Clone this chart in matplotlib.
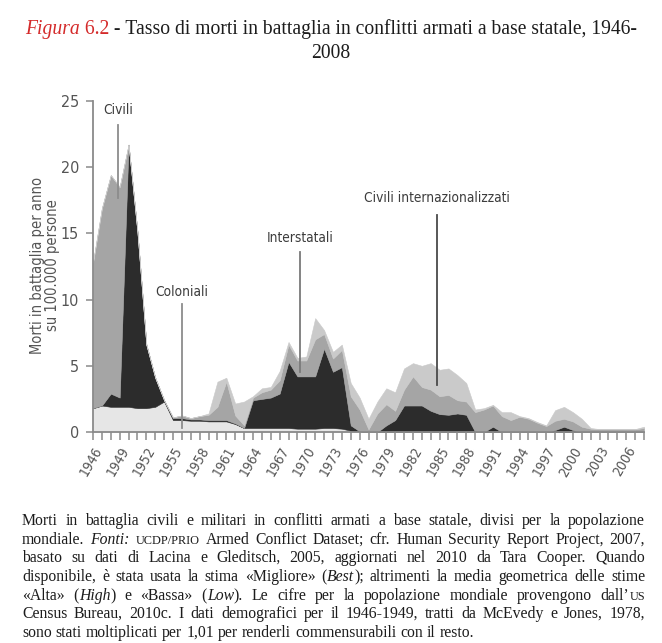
import re
import matplotlib
matplotlib.use('Agg')
import matplotlib.pyplot as plt
from matplotlib import font_manager

# dati (morti per 100.000 persone, strati impilati)
years = list(range(1946, 2009))

coloniali = [1.8, 2.0, 1.9, 1.9, 1.9, 1.8, 1.8, 1.9, 2.3, 0.9,
             0.9, 0.85, 0.85, 0.8, 0.8, 0.8, 0.6, 0.3, 0.3, 0.3,
             0.3, 0.3, 0.3, 0.25, 0.25, 0.25, 0.3, 0.3, 0.25, 0.1,
             0.05] + [0] * 32

interstatali = [0, 0, 1.0, 0.7, 19.8, 13.3, 4.8, 2.2, 0.1, 0.15,
                0.15, 0.1, 0.1, 0.1, 0.1, 0.1, 0.05, 0, 2.1, 2.2,
                2.3, 2.6, 5.0, 3.95, 3.95, 3.95, 6.0, 4.25, 4.65, 0.4,
                0, 0, 0, 0.5, 0.9, 2.0, 2.0, 2.0, 1.6, 1.35,
                1.3, 1.4, 1.3, 0, 0, 0.4, 0, 0, 0, 0,
                0, 0, 0.15, 0.4, 0.15] + [0] * 8

civili = [11.0, 14.9, 16.5, 15.9, 0, 0, 0, 0, 0, 0.05,
          0.2, 0.1, 0.25, 0.4, 1.0, 2.9, 0.6, 0.2, 0.2, 0.5,
          0.6, 1.0, 1.3, 1.2, 1.2, 2.8, 1.1, 1.0, 1.3, 2.2,
          1.65, 0.2, 1.4, 1.6, 0.7, 1.2, 2.2, 1.4, 1.6, 1.35,
          1.5, 1.0, 1.0, 1.5, 1.7, 1.6, 1.2, 0.9, 1.15, 1.0,
          0.7, 0.45, 0.7, 0.6, 0.65, 0.4, 0.25, 0.2, 0.2, 0.2,
          0.2, 0.2, 0.3]

civili_int = [0] * 13 + [0.1, 1.9, 0.3, 0.9, 1.8, 0.1, 0.3, 0.2,
              0.7, 0.2, 0.2, 0.3, 1.6, 0.3, 0.5, 0.4, 1.0, 0.9,
              0.8, 0.9, 1.2, 1.4, 1.6, 1.0, 1.6, 2.0, 2.0, 2.0,
              1.9, 1.4, 0.2, 0.1, 0.05, 0.3, 0.6, 0.05, 0.05, 0.05,
              0.05, 0.8, 0.9, 0.7, 0.6, 0.05, 0.02, 0.02, 0.02, 0.02,
              0.02, 0.1]

layer_colors = ['#e6e6e6', '#2c2c2c', '#a5a5a5', '#cacaca']
tick_years = list(range(1946, 2007, 3))

caption = [
    "Morti in battaglia civili e militari in conflitti armati a base statale, divisi per la popolazione",
    "mondiale. *Fonti:* ^ucdp/prio^ Armed Conflict Dataset; cfr. Human Security Report Project, 2007,",
    "basato su dati di Lacina e Gleditsch, 2005, aggiornati nel 2010 da Tara Cooper. Quando",
    "disponibile, è stata usata la stima «Migliore» (*Best*); altrimenti la media geometrica delle stime",
    "«Alta» (*High*) e «Bassa» (*Low*). Le cifre per la popolazione mondiale provengono dall’^us^",
    "Census Bureau, 2010c. I dati demografici per il 1946-1949, tratti da McEvedy e Jones, 1978,",
    "sono stati moltiplicati per 1,01 per renderli commensurabili con il resto.",
]

W, H = 662, 643
fig = plt.figure(figsize=(W / 100, H / 100), dpi=100)
renderer = fig.canvas.get_renderer()

installed = {f.name for f in font_manager.fontManager.ttflist}
if 'Liberation Sans Narrow' in installed:
    cond = dict(family='Liberation Sans Narrow')
else:
    cond = dict(family='DejaVu Sans', fontstretch='condensed')
serif = 'Liberation Serif'


def text_width(s, **kw):
    t = fig.text(0, 0, s, **kw)
    w = t.get_window_extent(renderer).width
    t.remove()
    return w


def parts_of(word):
    out = []
    for p in re.split(r'(\*[^*]+\*|\^[^^]+\^)', word):
        if not p:
            continue
        if p.startswith('*'):
            out.append((p[1:-1], 'italic', 1.0))
        elif p.startswith('^'):
            out.append((p[1:-1].upper(), 'normal', 0.78))
        else:
            out.append((p, 'normal', 1.0))
    return out


def draw_word(word, x, y, size, draw=True):
    # x, y in pixel dall'alto a sinistra
    for s, style, k in parts_of(word):
        kw = dict(fontsize=size * k, family=serif, style=style, color='#1c1c1c')
        w = text_width(s, **kw)
        if draw:
            fig.text(x / W, 1 - y / H, s, va='baseline', ha='left', **kw)
        x += w
    return x


# --- titolo ---
tsize = 14.1
pieces = [("Figura", 'italic', '#d42a2a'), (" 6.2", 'normal', '#d42a2a'),
          (" - Tasso di morti in battaglia in conflitti armati a base statale, 1946-", 'normal', '#1c1c1c')]
widths = [text_width(s.replace(' ', '\u00a0'), fontsize=tsize, family=serif, style=st) for s, st, c in pieces]
x = W / 2 - sum(widths) / 2
for (s, st, c), w in zip(pieces, widths):
    fig.text(x / W, 1 - 34 / H, s.replace(' ', '\u00a0'), fontsize=tsize, family=serif,
             style=st, color=c, va='baseline', ha='left')
    x += w
fig.text(0.5, 1 - 58 / H, "2008", fontsize=tsize, family=serif, color='#1c1c1c',
         va='baseline', ha='center')

# --- grafico ---
ax = fig.add_axes([93 / W, (H - 432) / H, 551 / W, 331 / H])
ax.stackplot(years, coloniali, interstatali, civili, civili_int,
             colors=layer_colors, linewidth=0.4, edgecolor='face')
ax.set_xlim(1946, 2008)
ax.set_ylim(0, 25)
for side in ['top', 'right']:
    ax.spines[side].set_visible(False)
for side in ['left', 'bottom']:
    ax.spines[side].set_color('#8a8a8a')
    ax.spines[side].set_linewidth(1.3)
ax.set_xticks(tick_years)
ax.set_xticks(years, minor=True)
ax.set_xticklabels([str(y) for y in tick_years], rotation=60, ha='right',
                   rotation_mode='anchor', fontsize=10, color='#555555', **cond)
ax.set_yticks(range(0, 26, 5))
ax.set_yticklabels([str(v) for v in range(0, 26, 5)], fontsize=11.5,
                   color='#555555', **cond)
ax.tick_params(axis='x', which='both', direction='out', length=6, width=1.1,
               color='#8a8a8a', pad=3)
ax.tick_params(axis='y', direction='out', length=5, width=1.1, color='#8a8a8a', pad=5)

lab = dict(fontsize=9.8, color='#3c3c3c', ha='center', va='center', **cond)
notes = [("Civili", 1948.8, 24.3, 23.2, 17.7, '#8c8c8c'),
         ("Coloniali", 1956.0, 10.6, 9.7, 0.3, '#8c8c8c'),
         ("Interstatali", 1969.3, 14.65, 13.6, 4.5, '#7a7a7a'),
         ("Civili internazionalizzati", 1984.7, 17.7, 16.4, 3.55, '#4a4a4a')]
for name, xl, yt, y0, y1, lc in notes:
    ax.text(xl, yt, name, **lab)
    ax.plot([xl, xl], [y0, y1], color=lc, lw=1.3)

fig.text(45 / W, 1 - 265 / H, "Morti in battaglia per anno\nsu 100.000 persone",
         rotation=90, ha='center', va='center', fontsize=10.5, color='#555555',
         linespacing=1.05, **cond)

# --- didascalia giustificata ---
csize = 11.3
left, right = 22, 645
space = text_width("a a", fontsize=csize, family=serif) - text_width("aa", fontsize=csize, family=serif)
for i, line in enumerate(caption):
    y = round(525 + i * 18.7)
    words = line.split(' ')
    ws = [draw_word(w, 0, 0, csize, draw=False) for w in words]
    if i == len(caption) - 1:
        gap = space
    else:
        gap = (right - left - sum(ws)) / (len(words) - 1)
    x = left
    for w, wd in zip(words, ws):
        draw_word(w, x, y, csize)
        x += wd + gap

fig.savefig('out.png', dpi=100)
